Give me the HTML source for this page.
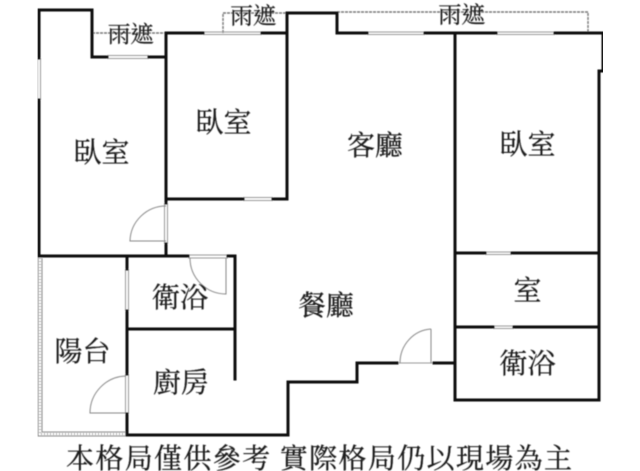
<!DOCTYPE html>
<html><head><meta charset="utf-8">
<style>
html,body{margin:0;padding:0;background:#fff}
svg{display:block}
text{font-family:"Liberation Serif","Noto Serif CJK TC","Noto Serif CJK SC",serif;fill:#1a1a1a;stroke:#1a1a1a;stroke-width:.25}
</style></head>
<body>
<svg width="640" height="471" viewBox="0 0 640 471" xmlns="http://www.w3.org/2000/svg">
<defs><filter id="b" x="0" y="0" width="100%" height="100%"><feGaussianBlur stdDeviation="0.4"/></filter></defs>
<rect width="640" height="471" fill="#fff"/>
<g filter="url(#b)">
<!-- dashed canopies -->
<g fill="none" stroke="#777" stroke-width="1.4" stroke-dasharray="3 1">
<path d="M92 33H166"/>
<path d="M223 33V13H287"/>
<path d="M337 12H588V33"/>
</g>
<!-- windows -->
<g fill="none" stroke="#999" stroke-width="1">
<path d="M37.5 58V100M40.5 58V100"/>
<path d="M107 55.5H149M107 58.5H149"/>
<path d="M203 32H262M203 34.5H262"/>
<path d="M243 197.5H273M243 200.5H273"/>
<path d="M367 32H425M367 34.5H425"/>
<path d="M496 32H555M496 34.5H555"/>
<path d="M485 252H512M485 254.5H512"/>
<path d="M493 326H514M493 328.5H514"/>
<path d="M125.5 269V311M128.5 269V311"/>
<path d="M125.5 374V414M128.5 374V414"/>
<path d="M164.5 203V244M167.5 203V244"/>
<path d="M188 255H228M188 258H228"/>
<path d="M397 363H434"/>
</g>
<!-- balcony -->
<g fill="none" stroke="#888" stroke-width="1">
<path d="M38 256V436H127M42 258V432H127"/>
</g>
<g fill="none" stroke="#aaa" stroke-width="2" stroke-dasharray="1 2">
<path d="M40 258V434H127"/>
</g>
<!-- doors -->
<g fill="none" stroke="#888" stroke-width="1">
<path d="M166 206A36 36 0 0 0 130 241H166"/>
<path d="M226 258V294A36 36 0 0 1 190 258"/>
<path d="M126 376A37 37 0 0 0 90 413H126"/>
<path d="M431 329V363M431 329A33 34 0 0 0 400 363"/>
</g>
<!-- walls -->
<g fill="none" stroke="#111" stroke-width="3" stroke-linecap="square" stroke-linejoin="miter">
<path d="M39 58V10H92V57H107"/>
<path d="M39 100V256H188"/>
<path d="M149 57H166"/>
<path d="M203 33H166V203"/>
<path d="M166 244V256"/>
<path d="M166 199H243"/>
<path d="M273 199H287V13H337V33H367"/>
<path d="M262 33H287"/>
<path d="M425 33H496"/>
<path d="M555 33H603V71H599V400H455V33"/>
<path d="M455 253H485M512 253H599"/>
<path d="M455 327H493M514 327H599"/>
<path d="M434 363H455"/>
<path d="M397 363H357V382H288V435H127V414"/>
<path d="M127 374V311"/>
<path d="M127 269V256"/>
<path d="M228 256H235V379"/>
<path d="M127 329H235"/>
</g>
<!-- labels -->
<g font-size="23" text-anchor="middle">
<text x="130.5" y="42" textLength="46" lengthAdjust="spacingAndGlyphs">雨遮</text>
<text x="253" y="23.5" textLength="46" lengthAdjust="spacingAndGlyphs">雨遮</text>
<text x="461.5" y="22.5" textLength="47" lengthAdjust="spacingAndGlyphs">雨遮</text>
</g>
<g font-size="28" text-anchor="middle">
<text x="101.5" y="162">臥室</text>
<text x="223.5" y="132">臥室</text>
<text x="375" y="155">客廳</text>
<text x="527.5" y="154">臥室</text>
<text x="527.5" y="300">室</text>
<text x="527.5" y="373">衛浴</text>
<text x="326" y="315">餐廳</text>
<text x="180" y="307">衛浴</text>
<text x="181" y="392">廚房</text>
<text x="82.5" y="361">陽台</text>
</g>
<text x="66" y="468" font-size="28" textLength="506" lengthAdjust="spacing">本格局僅供參考 實際格局仍以現場為主</text>
</g>
</svg>
</body></html>
